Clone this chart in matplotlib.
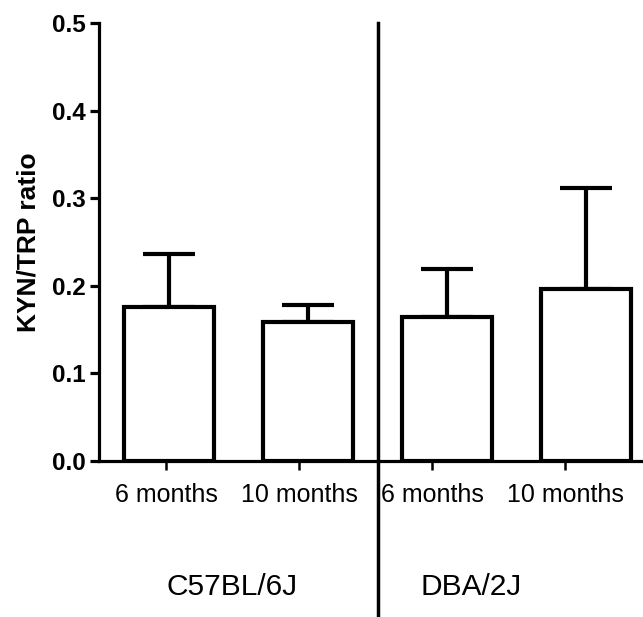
import matplotlib
matplotlib.use("Agg")
import matplotlib.pyplot as plt
import numpy as np

plt.rcParams['font.family'] = ['Liberation Sans', 'DejaVu Sans']

tick_labels = ["6 months", "10 months", "6 months", "10 months"]
groups = ["C57BL/6J", "DBA/2J"]
means = [0.176, 0.159, 0.164, 0.196]
sems = [0.060, 0.019, 0.055, 0.116]

fig = plt.figure(figsize=(6.43, 6.17), dpi=100)
ax = fig.add_axes([99/643, 1-461/617, 1-99/643, (461-23)/617])

x = np.arange(len(means))
ax.bar(x, means, width=0.65, facecolor='white', edgecolor='black', linewidth=3.0, zorder=2)
ax.errorbar(x, means, yerr=[np.zeros(len(sems)), sems], fmt='none', ecolor='black',
            elinewidth=3.0, capsize=19, capthick=3.0, zorder=1)

ax.set_xlim(-0.504, 3.41)
ax.set_ylim(0, 0.5)
yt = [0.0, 0.1, 0.2, 0.3, 0.4, 0.5]
ax.set_yticks(yt)
ax.set_yticklabels([f"{v:.1f}" for v in yt], fontweight='bold', fontsize=17.5)
tick_pos = x * 0.957 - 0.02
ax.set_xticks(tick_pos)
ax.set_xticklabels(tick_labels, fontsize=18)

for s in ['top', 'right']:
    ax.spines[s].set_visible(False)
for s in ['left', 'bottom']:
    ax.spines[s].set_linewidth(2.3)
ax.tick_params(axis='y', length=6.5, width=2.3, pad=3)
ax.tick_params(axis='x', length=6.5, width=1.8, pad=9)

ax.set_ylabel("KYN/TRP ratio", fontweight='bold', fontsize=19, labelpad=8)

# divider between strains
ax.plot([1.5, 1.5], [0.5, -0.178], color='black', linewidth=2.5, clip_on=False, zorder=3)

fig.text(232/643, 1-587/617, groups[0], fontsize=21.5, ha='center', va='center')
fig.text(471/643, 1-587/617, groups[1], fontsize=21.5, ha='center', va='center')

fig.savefig("out.png", dpi=100)
